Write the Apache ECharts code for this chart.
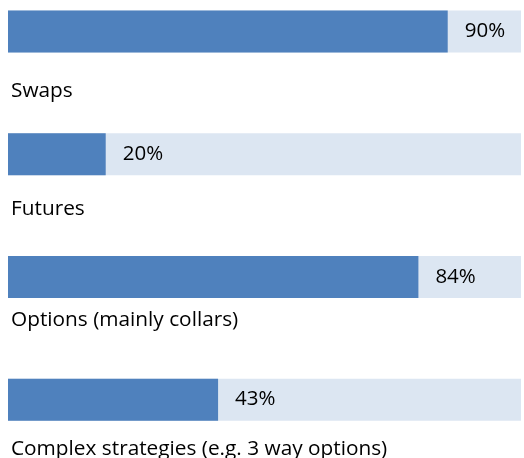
<!DOCTYPE html>
<html>
<head>
<meta charset="utf-8">
<script src="https://cdn.jsdelivr.net/npm/echarts@6/dist/echarts.min.js"></script>
<style>html,body{margin:0;padding:0;background:#fff}#c{width:524px;height:458px}</style>
</head>
<body>
<div id="c"></div>
<script>
var categories = ['Swaps', 'Futures', 'Options (mainly collars)', 'Complex strategies (e.g. 3 way options)'];
var values = [90, 20, 84, 43];

// layout only: how far each category caption sits below its bar centre
var captionDrop = [49, 44, 33, 39];

var chart = echarts.init(document.getElementById('c'), null, {renderer: 'canvas'});
var FONT = 'Open Sans';
var FS = 20.5;
var rich = {};
captionDrop.forEach(function (d, i) {
  rich['c' + i] = {padding: [d, 0, 0, 3], fontFamily: FONT, fontSize: 20.8, color: '#000'};
});
chart.setOption({
  animation: false,
  grid: {left: 8, right: 3, top: -30, height: 491, containLabel: false, outerBoundsMode: 'none'},
  xAxis: {type: 'value', min: 0, max: 105, show: false},
  yAxis: {
    type: 'category', data: categories, inverse: true,
    axisLine: {show: false}, axisTick: {show: false}, splitLine: {show: false},
    axisLabel: {
      inside: true, interval: 0, align: 'left', verticalAlign: 'top', margin: 0,
      formatter: function (v, i) { return '{c' + i + '|' + v + '}'; },
      rich: rich,
      color: '#000', fontFamily: FONT, fontSize: FS
    }
  },
  series: [{
    type: 'bar', data: values, barWidth: 42,
    itemStyle: {color: '#4f81bd'},
    showBackground: true,
    backgroundStyle: {color: '#dce6f2'},
    label: {
      show: true, position: 'right', distance: 17,
      formatter: '{c}%', color: '#000', fontFamily: FONT, fontSize: FS
    }
  }]
});
</script>
</body>
</html>
